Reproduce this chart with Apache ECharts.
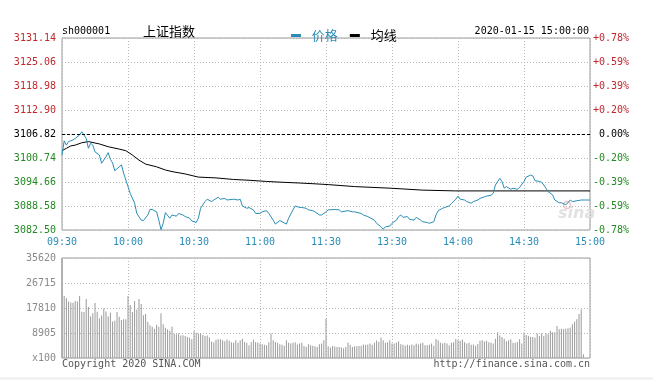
<!DOCTYPE html>
<html><head><meta charset="utf-8">
<script src="https://cdn.jsdelivr.net/npm/echarts/dist/echarts.min.js"></script>
<style>html,body{margin:0;padding:0;background:#fff}#c{width:653px;height:380px}</style>
</head><body><div id="c"></div>
<script>
// ---- data ----
const timeLabels = ['09:30','10:00','10:30','11:00','11:30','13:30','14:00','14:30','15:00'];
const priceTicks = ['3082.50','3088.58','3094.66','3100.74','3106.82','3112.90','3118.98','3125.06','3131.14'];
const pctTicks = ['-0.78%','-0.59%','-0.39%','-0.20%','0.00%','+0.20%','+0.39%','+0.59%','+0.78%'];
const volTicks = ['x100','8905','17810','26715','35620'];
const prevClose = 3106.82;
const priceMinVal = 3082.50, priceMaxVal = 3131.14, priceStep = 6.08;
const volMaxVal = 35620, volStep = 8905;

// [minute index from 09:30 (11:30 = 120, 15:00 = 240), price]
const pricePoints = [[0,3101.5],[1,3105.1],[2,3104.0],[3,3104.9],[5,3105.3],[6,3105.7],[8,3106.6],[9,3107.4],[11,3105.7],[12,3103.2],[13,3104.5],[14,3104.0],[15,3102.3],[17,3101.5],[18,3099.4],[20,3101.1],[21,3102.1],[22,3100.4],[23,3099.5],[24,3097.5],[26,3098.5],[27,3099.0],[28,3096.9],[30,3093.5],[31,3091.8],[33,3089.3],[34,3086.7],[36,3085.0],[37,3084.9],[39,3086.3],[40,3087.7],[41,3087.7],[43,3087.1],[44,3085.0],[45,3082.6],[46,3084.2],[47,3086.9],[49,3085.5],[50,3086.3],[52,3086.0],[53,3086.7],[55,3086.3],[56,3085.9],[58,3085.5],[59,3084.8],[61,3084.4],[62,3085.5],[63,3088.0],[65,3089.7],[66,3090.3],[68,3089.7],[69,3090.1],[71,3090.8],[72,3090.3],[74,3090.5],[75,3090.1],[78,3090.3],[80,3090.1],[81,3090.3],[82,3088.6],[84,3088.0],[85,3088.2],[87,3087.6],[88,3086.7],[90,3086.7],[91,3087.1],[93,3087.4],[94,3086.7],[96,3085.0],[97,3084.0],[99,3084.9],[100,3084.6],[102,3084.0],[103,3085.5],[105,3087.6],[106,3088.6],[108,3088.2],[109,3088.2],[111,3088.0],[112,3087.6],[114,3087.4],[115,3087.1],[117,3086.3],[118,3086.3],[120,3087.1],[121,3087.6],[124,3087.7],[126,3087.6],[127,3087.1],[130,3087.4],[132,3087.1],[133,3087.1],[136,3086.7],[137,3086.3],[139,3085.9],[142,3085.0],[143,3084.2],[145,3083.3],[146,3082.7],[147,3083.3],[149,3083.5],[150,3084.2],[152,3085.0],[153,3085.9],[154,3086.3],[155,3085.7],[157,3085.9],[158,3085.2],[160,3085.0],[161,3085.7],[163,3085.0],[164,3084.6],[166,3084.4],[167,3084.2],[169,3084.6],[170,3086.3],[171,3087.4],[173,3088.0],[174,3088.2],[176,3088.6],[177,3089.2],[179,3090.3],[180,3091.1],[181,3090.3],[183,3090.1],[184,3089.7],[186,3089.3],[187,3089.7],[189,3090.1],[190,3090.5],[192,3090.9],[193,3091.1],[195,3091.3],[196,3091.8],[197,3093.9],[199,3095.6],[200,3094.8],[201,3093.1],[202,3093.5],[204,3092.8],[205,3093.1],[207,3092.8],[208,3093.3],[210,3094.8],[211,3095.9],[213,3096.4],[214,3096.2],[215,3095.0],[217,3094.8],[218,3094.6],[219,3093.9],[221,3092.2],[223,3091.4],[224,3090.1],[226,3089.4],[227,3089.4],[229,3088.9],[230,3089.4],[231,3090.1],[232,3089.7],[234,3089.9],[236,3090.1],[238,3090.1],[240,3090.1]];

const avgPoints = [[0,3102.6],[2,3103.2],[4,3103.8],[6,3104.0],[9,3104.6],[12,3104.9],[17,3104.3],[21,3103.6],[26,3103.0],[29,3102.6],[32,3101.5],[35,3100.2],[38,3099.2],[43,3098.5],[47,3097.7],[50,3097.3],[56,3096.7],[62,3095.9],[70,3095.7],[78,3095.3],[85,3095.1],[93,3094.8],[100,3094.6],[108,3094.4],[115,3094.2],[121,3094.0],[133,3093.5],[149,3093.1],[164,3092.6],[179,3092.4],[200,3092.4],[220,3092.4],[240,3092.4]];

// volume per minute (index 0..240), unit x100
const volume = [35620,
22100,21300,20100,19800,19700,20300,20100,22100,16500,16400,
21000,18200,14900,15900,19600,16500,14200,15100,17600,16600,
14900,16100,13000,13300,16400,14700,13500,13800,13800,22100,
18900,16400,20300,17300,21000,19200,15200,15700,12900,11700,
11100,10400,11800,11100,15900,12000,10800,10200,9700,11200,
8600,8500,8700,8000,8100,7800,7500,7200,6700,9500,
9000,8700,8700,8200,7800,8000,7300,5900,5600,6500,
6700,6700,6300,6000,6600,6100,5600,5400,6300,5400,
6300,6900,5700,5400,4500,5600,6600,5700,5500,5200,
4900,4700,4500,5600,8700,6300,5700,5400,4900,4700,
4400,6300,5400,5200,5400,5600,4800,5200,5400,4300,
3900,4900,4500,4400,4200,3900,4900,5200,6300,14100,
4200,3700,4300,4100,3900,3900,3700,3500,3900,5500,
4700,3900,4200,4200,4300,4400,4800,4700,4800,5200,
4700,5400,6200,5700,7300,6300,5400,5600,6300,5200,
5200,5500,6000,4900,4700,4400,4700,4500,4800,4500,
5200,4800,5200,5400,4500,4500,4700,5200,4400,6800,
6300,5400,5200,5400,5200,4500,5400,5600,6800,6300,
6100,6600,5600,5200,5400,4700,4800,4400,5000,6100,
6300,5900,6100,5600,5400,5200,6900,9200,8000,7500,
6900,6000,6300,6700,5400,5400,5700,6700,5200,9100,
8200,7800,7500,7500,7200,8700,7800,8700,7800,8700,
8500,9700,9200,9200,11400,10200,10400,10200,10400,10600,
10900,12000,12900,13800,15700,17300,1300,0,0,0];

// ---- chart ----
const MONO = 'DejaVu Sans Mono';
const RED = '#c0282d', GREEN = '#238a23', BLUE = '#2b8db5';
const tickIdx = v => Math.round((v - priceMinVal) / priceStep);
const sideColor = v => Math.abs(v - prevClose) < 0.01 ? '#000' : (v > prevClose ? RED : GREEN);

const chart = echarts.init(document.getElementById('c'), null, {renderer: 'canvas'});
const gridLine = {show: true, lineStyle: {color: '#b8b8b8', type: [1, 2], width: 1}};
chart.setOption({
  animation: false,
  backgroundColor: '#fff',
  legend: {
    left: 286, top: 24, itemWidth: 10, itemHeight: 3, icon: 'rect', itemGap: 12,
    formatter: '  {name}',
    textStyle: {fontSize: 13, fontFamily: 'Noto Sans CJK SC'},
    data: [{name: '价格', textStyle: {color: BLUE}}, {name: '均线', textStyle: {color: '#000'}}],
    selectedMode: false
  },
  grid: [
    {left: 62, right: 63, top: 38, height: 192, show: true, borderColor: '#9a9a9a', borderWidth: 1},
    {left: 62, right: 63, top: 258, height: 100, show: true, borderColor: '#9a9a9a', borderWidth: 1}
  ],
  xAxis: [
    {type: 'value', gridIndex: 0, min: 0, max: 240, interval: 30,
     axisLine: {show: false}, axisTick: {show: false}, splitLine: gridLine,
     axisLabel: {margin: 7, color: BLUE, fontFamily: MONO, fontSize: 10,
       formatter: v => timeLabels[Math.round(v / 30)]}},
    {type: 'value', gridIndex: 1, min: 0, max: 240, interval: 30,
     axisLine: {show: false}, axisTick: {show: false}, splitLine: gridLine,
     axisLabel: {show: false}}
  ],
  yAxis: [
    {type: 'value', gridIndex: 0, min: priceMinVal, max: priceMaxVal, interval: priceStep,
     axisLine: {show: false}, axisTick: {show: false}, splitLine: gridLine,
     axisLabel: {margin: 6, fontFamily: MONO, fontSize: 10,
       formatter: v => priceTicks[tickIdx(v)], color: v => sideColor(v)}},
    {type: 'value', gridIndex: 0, position: 'right', min: priceMinVal, max: priceMaxVal, interval: priceStep,
     axisLine: {show: false}, axisTick: {show: false}, splitLine: {show: false},
     axisLabel: {margin: 39, align: 'right', fontFamily: MONO, fontSize: 10,
       formatter: v => pctTicks[tickIdx(v)], color: v => sideColor(v)}},
    {type: 'value', gridIndex: 1, min: 0, max: volMaxVal, interval: volStep,
     axisLine: {show: false}, axisTick: {show: false}, splitLine: gridLine,
     axisLabel: {margin: 6, fontFamily: MONO, fontSize: 10, color: '#8a8a8a',
       formatter: v => volTicks[Math.round(v / volStep)]}}
  ],
  series: [
    {name: '价格', type: 'line', xAxisIndex: 0, yAxisIndex: 0, data: pricePoints,
     showSymbol: false, symbol: 'none', lineStyle: {color: BLUE, width: 1}, itemStyle: {color: BLUE},
     z: 4,
     markLine: {silent: true, symbol: 'none', label: {show: false},
       lineStyle: {color: '#000', type: [3, 2], width: 1},
       data: [{yAxis: prevClose}]}},
    {name: '均线', type: 'line', xAxisIndex: 0, yAxisIndex: 0, data: avgPoints,
     showSymbol: false, symbol: 'none', lineStyle: {color: '#000', width: 1}, itemStyle: {color: '#000'}, z: 3},
    {name: 'vol', type: 'bar', xAxisIndex: 1, yAxisIndex: 2,
     data: volume.map((v, i) => [i, v]), barWidth: 1, itemStyle: {color: '#9a9a9a'}}
  ],
  graphic: [
    {type: 'rect', left: 0, top: 377, shape: {width: 653, height: 3}, style: {fill: '#f2f2f2'}},
    {type: 'text', x: 62, y: 31, style: {text: 'sh000001', font: '10px "DejaVu Sans Mono"', fill: '#000', verticalAlign: 'middle'}},
    {type: 'text', x: 143, y: 31, style: {text: '上证指数', font: '13px "Noto Sans CJK SC"', fill: '#000', verticalAlign: 'middle'}},
    {type: 'text', x: 589, y: 31, style: {text: '2020-01-15 15:00:00', font: '10px "DejaVu Sans Mono"', fill: '#000', align: 'right', verticalAlign: 'middle'}},
    {type: 'text', x: 62, y: 364, style: {text: 'Copyright 2020 SINA.COM', font: '10px "DejaVu Sans Mono"', fill: '#555', verticalAlign: 'middle'}},
    {type: 'text', x: 590, y: 364, style: {text: 'http://finance.sina.com.cn', font: '10px "DejaVu Sans Mono"', fill: '#555', align: 'right', verticalAlign: 'middle'}},
    {type: 'circle', x: 567, y: 205, z: 0, shape: {r: 3.5}, style: {fill: 'none', stroke: '#f0c4c4', lineWidth: 1.5}},
    {type: 'text', x: 558, y: 214, z: 0, style: {text: 'sina', font: 'italic bold 16px "DejaVu Sans"', fill: '#e2e2e2', verticalAlign: 'middle'}}
  ]
});
</script></body></html>
